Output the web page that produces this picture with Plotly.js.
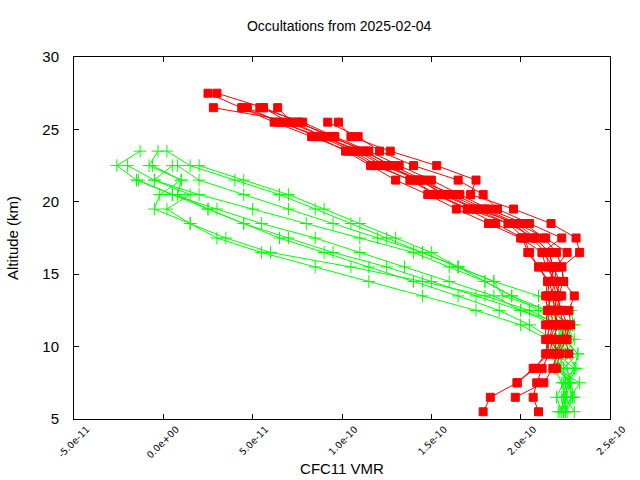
<!DOCTYPE html>
<html>
<head>
<meta charset="utf-8">
<script src="https://cdn.plot.ly/plotly-3.0.1.min.js"></script>
<style>
  body { margin: 0; background: #fff; }
  #chart { width: 640px; height: 480px; }
</style>
</head>
<body>
<div id="chart"></div>
<script>
// Altitude levels (km), top to bottom
const levels = [27.5, 26.5, 25.5, 24.5, 23.5, 22.5, 21.5, 20.5, 19.5, 18.5, 17.5, 16.5,
                15.5, 14.5, 13.5, 12.5, 11.5, 10.5, 9.5, 8.5, 7.5, 6.5, 5.5];

// Red profiles: VMR in units of 1e-11, first value at the given top altitude
const redTops = [27.5, 27.5, 26.5, 26.5, 26.5, 26.5, 25.5, 25.5, 26.5, 26.5];
const red1 = [2.5, 4.4, 6.2, 8.3, 10.4, 11.8, 13.9, 15.3, 17.1, 19.3, 20.2, 20.5, 21.0, 21.5, 21.4, 21.5, 21.6, 21.5, 21.4, 20.8, 19.8, 18.3, 17.9];
const red2 = [3.0, 5.6, 7.0, 9.0, 10.8, 12.3, 14.3, 15.8, 17.5, 19.8, 20.8, 21.6, 21.8, 21.8, 22.0, 21.9, 22.1, 21.8, 21.6, 21.2, 20.9, 20.7, 21.0];
const red3 = [2.8, 7.5, 9.5, 11.2, 12.8, 14.6, 16.0, 17.8, 19.6, 20.6, 21.4, 21.6, 21.8, 22.3, 21.9, 22.0, 21.9, 22.0, 21.8, 21.3, 19.7];
const red4 = [4.7, 6.5, 8.8, 10.6, 12.0, 13.8, 15.2, 17.0, 18.6, 20.1, 20.4, 21.0, 21.6, 21.5, 21.7, 21.8, 21.6, 22.2, 22.0];
const red5 = [5.4, 7.8, 9.6, 11.5, 13.2, 15.0, 16.6, 18.2, 20.2, 21.3, 22.0, 22.3, 22.4, 23.0, 22.7, 22.8, 22.5, 22.7];
const red6 = [6.4, 7.2, 9.0, 11.0, 12.5, 14.4, 15.6, 17.4, 19.3, 20.8, 21.6, 21.8, 22.2, 22.0, 22.3, 22.6, 22.6, 22.1];
const red7 = [9.2, 10.9, 12.1, 14.0, 16.5, 17.9, 18.7, 20.5, 22.3, 21.2, 21.9, 21.6, 21.8, 21.9, 22.0, 21.6, 21.5];
const red8 = [9.8, 10.5, 12.7, 15.3, 17.5, 17.2, 19.6, 21.7, 23.1, 23.3, 22.3, 22.4, 22.1, 22.2, 22.4, 22.3, 21.9];
const red9 = [5.6, 7.6, 9.3, 11.4, 12.6, 14.2, 16.3, 18.0, 19.8, 21.4, 22.6, 22.0, 21.9, 21.7, 21.5, 21.4, 21.4, 21.6, 20.7, 19.8];
const red10 = [4.4, 6.6, 8.6, 10.2, 11.6, 13.0, 14.8, 16.4, 18.2, 20.0, 21.2, 21.4, 22.0, 22.1, 21.8, 22.6, 22.4, 22.0];

// Green profiles
const greenTops = [23.5, 23.5, 23.5, 22.5, 22.5, 22.5, 22.5, 21.5, 22.5];
const green1 = [-1.3, -2.6, -1.5, 0.5, 2.5, 4.5, 7.0, 9.5, 12.5, 15.0, 17.5, 20.0, 22.5, 23.0, 22.5, 22.0, 22.8, 23.0, 22.5];
const green2 = [-0.3, -0.8, 1.0, -0.2, -0.5, 1.5, 3.5, 6.0, 10.5, 14.5, 18.0, 20.5, 22.2, 22.4, 23.2, 23.0, 22.6, 22.3, 22.4];
const green3 = [0.2, 1.5, 4.0, 6.5, 8.5, 10.5, 12.5, 14.5, 16.5, 18.5, 19.0, 21.5, 22.4, 22.0, 21.8, 22.3, 22.7, 22.9, 22.2];
const green4 = [-2.0, -0.5, 2.0, 5.0, 8.0, 11.0, 14.0, 16.0, 18.0, 19.5, 21.0, 22.6, 22.2, 22.0, 21.9, 22.3, 22.5, 22.4];
const green5 = [0.8, 2.0, 4.5, 7.0, 9.5, 12.0, 14.5, 16.5, 18.5, 21.0, 22.8, 23.0, 22.5, 23.2, 22.4, 22.5, 22.6, 22.1];
const green6 = [2.0, 4.5, 7.0, 9.0, 11.0, 13.0, 15.0, 16.5, 18.0, 19.5, 21.5, 22.9, 22.6, 22.0, 23.0, 22.4, 22.0, 22.3];
const green7 = [0.5, -0.5, 1.5, 0.2, 1.5, 3.0, 5.5, 8.5, 11.5, 14.5, 17.5, 20.0, 21.5, 22.0, 22.6, 22.8, 22.5, 23.0];
const green8 = [-1.4, 0.5, 3.0, 5.5, 8.5, 11.0, 13.5, 16.0, 18.5, 20.0, 22.0, 22.3, 22.5, 22.0, 23.3, 22.8, 22.5];
const green9 = [-0.6, 1.0, 0.8, 2.5, 4.5, 6.5, 9.0, 11.5, 14.0, 16.5, 18.8, 20.5, 21.8, 22.6, 23.1, 22.7, 22.4, 22.6];

const xTickVals = [-5e-11, 0, 5e-11, 1e-10, 1.5e-10, 2e-10, 2.5e-10];
const xTickText = ['-5.0e-11', '0.0e+00', '5.0e-11', '1.0e-10', '1.5e-10', '2.0e-10', '2.5e-10'];
const yTickVals = [5, 10, 15, 20, 25, 30];

const reds = [red1, red2, red3, red4, red5, red6, red7, red8, red9, red10];
const greens = [green1, green2, green3, green4, green5, green6, green7, green8, green9];

function profileTrace(vals, top, color, symbol, size) {
    const start = levels.indexOf(top);
    return {
        x: vals.map(v => v * 1e-11),
        y: levels.slice(start, start + vals.length),
        mode: 'lines+markers',
        type: 'scatter',
        showlegend: false,
        line: { color: color, width: 1 },
        marker: { color: color, symbol: symbol, size: size, line: { color: color, width: 1 } },
        cliponaxis: true
    };
}

const traces = [];
greens.forEach((g, i) => traces.push(profileTrace(g, greenTops[i], '#00ff00', 'cross-thin', 9)));
reds.forEach((r, i) => traces.push(profileTrace(r, redTops[i], '#ff0000', 'square', 8)));

const axisFont = { family: 'Liberation Sans, Arial, sans-serif', size: 15, color: '#000' };

const layout = {
    width: 640,
    height: 480,
    margin: { l: 74, r: 30, t: 57, b: 61 },
    paper_bgcolor: '#fff',
    plot_bgcolor: '#fff',
    title: {
        text: 'Occultations from 2025-02-04',
        font: { family: 'Liberation Sans, Arial, sans-serif', size: 14, color: '#000' },
        x: 0.53, xanchor: 'center', y: 0.945, yanchor: 'middle'
    },
    xaxis: {
        range: [-5e-11, 2.5e-10],
        tickvals: xTickVals,
        ticktext: xTickText,
        tickangle: -45,
        ticklabelshift: 13,
        tickfont: { family: 'DejaVu Sans, sans-serif', size: 9.5, color: '#000' },
        ticks: 'inside', ticklen: 5, tickcolor: '#000',
        showline: true, linecolor: '#000', linewidth: 1, mirror: 'allticks',
        showgrid: false, zeroline: false,
        title: { text: 'CFC11 VMR', font: axisFont, standoff: 4 }
    },
    yaxis: {
        range: [5, 30],
        tickvals: yTickVals,
        ticklabelstandoff: 11,
        tickfont: { family: 'Liberation Sans, Arial, sans-serif', size: 15, color: '#000' },
        ticks: 'inside', ticklen: 5, tickcolor: '#000',
        showline: true, linecolor: '#000', linewidth: 1, mirror: 'allticks',
        showgrid: false, zeroline: false,
        title: { text: 'Altitude (km)', font: axisFont, standoff: 20 }
    }
};

Plotly.newPlot('chart', traces, layout, { staticPlot: true });
</script>
</body>
</html>
